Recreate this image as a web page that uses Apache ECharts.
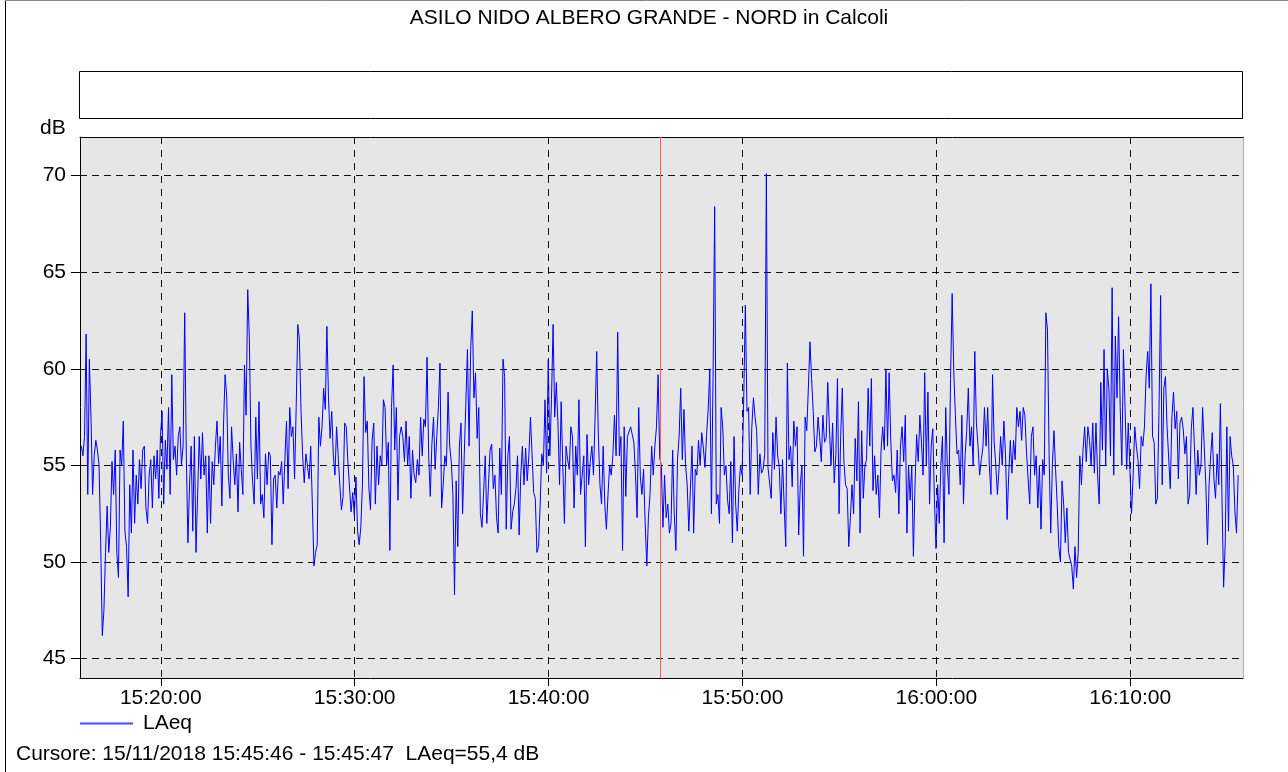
<!DOCTYPE html>
<html><head><meta charset="utf-8">
<script src="https://cdn.jsdelivr.net/npm/echarts@6/dist/echarts.min.js"></script>
<style>html,body{margin:0;padding:0;background:#fff}#c{width:1288px;height:772px}</style>
</head><body><div id="c"></div>
<script>
const titleText = 'ASILO NIDO ALBERO GRANDE - NORD in Calcoli';
const seriesName = 'LAeq';
const yUnit = 'dB';
const cursorText = 'Cursore: 15/11/2018 15:45:46 - 15:45:47  LAeq=55,4 dB';
const startTime = '15:15:54';
const stepSeconds = 5;
const axisStart = '15:15:50';
const axisEnd = '16:15:49';
const cursorTime = '15:45:46';
const yMin = 44, yMax = 72;
const yTicks = [45, 50, 55, 60, 65, 70];
const xTickLabels = ['15:20:00', '15:30:00', '15:40:00', '15:50:00', '16:00:00', '16:10:00'];

const laeq1 = [56,55.5,56.5,61.8,53.5,60.5,57.5,53.5,55.5,56.3,55.8,55.0,51.0,46.2,47.5,50.5,52.9,50.5,51.8,55.2,53.5,55.8,50.5,49.2,55.8,55.0,57.3,51.6,50.8,48.2,54.0,51.5,55.8,52.0,54.5,53.0,55.3,53.8,55.8,56.0,52.8,52.0,54.5,55.3,52.8,55.5,54.3,55.8,53.3,56.5,57.8,53.0,56.3,54.8,58.0,53.5,59.7,55.3,56.0,54.5,56.5,57.0,55.0,56.0,62.9,55.5,51.0,54.0,56.0,51.6,56.5,50.5,53.5,56.5,54.3,56.7,54.5,55.5,51.5,55.5];
const laeq2 = [52.0,55.2,54.0,56.0,57.3,55.1,56.5,52.9,57.0,59.7,58.6,54.5,53.3,57.0,55.3,54.0,55.6,52.6,56.2,54.8,53.5,60.2,57.6,64.1,61.6,56.0,54.2,53.0,57.5,54.3,58.3,53.0,53.5,52.3,55.6,54.0,55.7,55.5,50.9,54.3,54.5,52.8,54.7,54.5,55.2,53.0,55.3,57.3,53.8,58.0,56.5,57.0,54.3,58.0,62.3,61.5,57.8,55.5,54.1,55.6,55.7,54.3,56.0,53.0,49.8,50.5,50.9,57.5,56.0,57.0,59.0,57.9,62.2,58.5,56.4,57.8,55.5,54.5,57.0,55.5];
const laeq3 = [54.0,52.7,53.4,57.2,57.0,55.2,55.2,52.6,53.6,52.4,54.4,51.6,50.9,51.8,54.0,59.6,56.7,57.3,53.8,52.7,56.3,57.2,53.0,56.0,54.0,55.5,55.0,58.4,58.0,55.0,56.2,50.6,58.0,60.2,55.8,58.0,53.2,56.5,57.0,56.5,55.2,57.3,55.0,56.5,53.3,55.8,54.5,54.1,55.3,54.5,57.5,55.5,57.4,57.0,60.6,55.5,53.4,56.1,57.5,54.8,56.5,58.0,60.3,52.8,54.0,55.5,55.0,58.8,56.0,55.2,53.5,48.3,54.2,50.8,56.0,57.2,52.5,55.5,58.2,61.0];
const laeq4 = [56.0,61.0,63.0,58.5,59.8,56.4,58.0,52.5,51.8,53.6,55.5,52.0,54.0,55.8,56.1,53.8,54.5,52.3,51.5,55.9,53.5,60.5,59.6,51.7,55.5,56.5,51.7,52.6,53.0,53.8,55.5,51.4,54.5,56.0,54.0,55.9,54.2,55.5,57.5,57.5,53.6,53.3,50.5,50.8,53.0,55.6,55.0,58.4,54.6,60.5,55.5,58.4,62.3,57.5,59.3,57.2,54.0,58.3,55.0,52.0,56.0,55.3,54.8,57.0,56.5,52.8,56.0,54.5,58.4,53.5,53.5,55.5,50.8,56.6,54.0,55.2,56.0,54.5,57.5,60.9];
const laeq5 = [56.6,54.0,53.0,56.0,53.0,51.7,53.5,55.0,54.5,55.5,57.6,55.5,61.9,55.5,56.5,50.6,57.0,53.4,56.5,56.6,57.0,57.0,56.2,54.5,52.3,58.0,54.4,53.5,54.8,52.0,49.8,52.3,53.5,56.0,54.5,56.0,57.0,59.7,55.4,55.0,51.8,54.5,52.3,53.0,51.5,52.0,55.8,52.5,50.6,55.3,56.5,59.0,55.3,57.9,55.0,54.0,51.6,53.8,56.0,51.5,54.8,54.5,56.3,55.0,56.7,55.9,54.9,56.6,57.9,60.0,52.5,59.5,68.4,53.0,53.5,52.0,58.0,57.0,54.5,55.0];
const laeq6 = [53.2,52.5,55.2,51.0,56.5,53.0,51.6,53.8,55.0,54.5,58.5,63.3,57.8,58.0,53.5,57.0,58.5,57.5,56.8,53.5,55.6,54.6,54.8,55.6,70.1,54.9,54.9,53.3,56.7,54.8,57.5,55.5,54.9,52.5,55.3,53.0,50.8,60.3,55.3,56.0,53.9,57.3,56.0,57.0,51.4,54.0,55.0,50.3,57.5,56.8,59.0,61.4,59.5,57.8,55.7,56.0,57.5,56.5,55.2,57.6,56.2,56.4,59.3,57.0,55.0,57.2,54.1,55.5,59.5,52.5,56.5,59.0,55.2,54.0,53.8,50.8,52.3,54.0,52.5,56.4];
const laeq7 = [54.2,58.3,51.5,56.8,53.3,55.0,55.3,59.0,56.0,59.5,53.7,55.5,53.5,54.5,52.3,55.8,57.0,55.8,60.0,56.0,59.8,56.3,54.2,54.5,53.6,55.8,52.5,56.0,57.0,55.2,57.6,51.5,55.0,53.2,55.0,50.3,54.0,56.6,55.2,57.6,56.2,54.5,59.8,55.0,58.8,53.0,56.0,56.9,53.3,50.7,54.0,52.0,55.0,56.5,51.0,58.0,55.0,53.5,59.5,63.9,59.8,57.6,55.6,55.8,54.0,57.6,53.0,55.5,56.8,59.0,56.0,57.0,55.0,60.9,57.2,56.0,54.5,55.3,55.9,58.0];
const laeq8 = [56.0,58.0,55.0,53.5,59.7,56.2,55.0,53.5,54.8,56.5,55.0,57.3,55.6,52.2,54.5,56.3,54.6,56.3,55.3,58.0,57.0,57.8,56.3,58.0,57.6,55.7,54.3,53.0,56.5,57.0,54.5,55.5,52.8,55.0,51.7,55.3,54.5,62.9,62.0,55.5,51.5,55.0,56.8,54.8,53.0,50.8,50.0,54.2,53.0,51.0,52.8,50.5,50.6,49.8,48.6,50.8,49.2,50.5,55.5,54.0,55.8,57.0,55.2,57.0,56.3,55.0,57.2,54.6,57.2,54.5,53.0,59.3,55.8,61.0,55.0,60.0,59.0,55.5,64.2,54.5];
const laeq9 = [61.7,58.5,62.7,58.0,55.0,61.0,58.0,54.8,57.2,54.8,52.5,54.5,57.0,56.0,55.3,53.8,56.5,56.0,57.0,59.6,60.9,59.0,64.4,56.5,56.2,53.0,53.3,57.8,63.8,54.0,59.0,59.6,57.0,56.9,53.8,57.5,58.8,56.9,57.8,54.3,57.2,57.5,56.9,55.6,56.5,53.0,53.5,56.9,58.0,55.8,53.5,55.8,54.5,55.0,58.0,56.0,54.0,50.9,54.0,55.5,56.7,54.3,53.3,55.6,54.0,58.2,53.3,48.7,51.0,57.0,51.6,56.5,55.5,55.0,52.6,51.5,54.5];

const laeq = [].concat(laeq1, laeq2, laeq3, laeq4, laeq5, laeq6, laeq7, laeq8, laeq9);

const FONT = 'Liberation Sans, Arial, sans-serif';
const FS = 21;
// times are expressed as seconds of the day
const toSec = s => { const p = s.split(':').map(Number); return p[0] * 3600 + p[1] * 60 + p[2]; };
const pad = n => (n < 10 ? '0' : '') + n;
const fmtTime = v => { const s = Math.round(v); return pad(Math.floor(s / 3600)) + ':' + pad(Math.floor(s / 60) % 60) + ':' + pad(s % 60); };
const t0 = toSec(startTime);
const seriesData = laeq.map((v, i) => [t0 + i * stepSeconds, v]);
const tMin = toSec(axisStart);
const tMax = toSec(axisEnd);
const xTickVals = xTickLabels.map(toSec);

const chart = echarts.init(document.getElementById('c'), null, { renderer: 'canvas' });
chart.setOption({
  animation: false,
  backgroundColor: '#ffffff',
  textStyle: { fontFamily: FONT },
  title: {
    text: titleText, left: 644, top: 3, textAlign: 'center', padding: 5,
    textStyle: { fontSize: FS, fontWeight: 'normal', color: '#000', fontFamily: FONT }
  },
  legend: {
    show: true, left: 75, top: 708, icon: 'rect', itemWidth: 53, itemHeight: 2,
    data: [{ name: seriesName, itemStyle: { color: '#4a4aff' } }],
    textStyle: { fontSize: FS, color: '#000', fontFamily: FONT, padding: [0, 0, 0, 5] }
  },
  grid: {
    left: 80, top: 137, width: 1163, height: 541,
    show: true, backgroundColor: '#e6e6e6', borderWidth: 0
  },
  xAxis: [{
    type: 'value', min: tMin, max: tMax,
    axisLine: { show: true, onZero: false, lineStyle: { color: '#000', width: 1 } },
    axisTick: { show: true, length: 8, customValues: xTickVals, lineStyle: { color: '#000' } },
    axisLabel: { customValues: xTickVals, formatter: fmtTime, fontSize: FS, color: '#000', fontFamily: FONT, margin: 10, hideOverlap: false },
    splitLine: { show: true, lineStyle: { color: '#111', width: 1, type: [7, 6] } },
    minorTick: { show: false }, minorSplitLine: { show: false }
  }, {
    type: 'value', min: tMin, max: tMax, position: 'top',
    axisLine: { show: true, onZero: false, lineStyle: { color: '#000', width: 1 } },
    axisTick: { show: false }, axisLabel: { show: false }, splitLine: { show: false }
  }],
  yAxis: [{
    type: 'value', min: yMin, max: yMax, position: 'left',
    axisLine: { show: true, onZero: false, lineStyle: { color: '#000', width: 1 } },
    axisTick: { show: true, length: 9, customValues: yTicks, lineStyle: { color: '#000' } },
    axisLabel: { customValues: yTicks, fontSize: FS, color: '#000', fontFamily: FONT, margin: 14 },
    splitLine: { show: true, lineStyle: { color: '#111', width: 1, type: [7, 5] } }
  }, {
    type: 'value', min: yMin, max: yMax, position: 'right',
    axisLine: { show: true, onZero: false, lineStyle: { color: '#b0b0b0', width: 1 } },
    axisTick: { show: false }, axisLabel: { show: false }, splitLine: { show: false }
  }],
  series: [{
    type: 'line', name: seriesName, data: seriesData, xAxisIndex: 0, yAxisIndex: 0,
    showSymbol: false, symbol: 'none',
    lineStyle: { color: '#0000ff', width: 1 }, itemStyle: { color: '#0000ff' },
    emphasis: { disabled: true },
    markLine: {
      silent: true, symbol: ['none', 'none'], label: { show: false }, animation: false,
      lineStyle: { color: '#ff5a5a', width: 1, type: 'solid' },
      data: [{ xAxis: toSec(cursorTime) + 0.5 }]
    }
  }],
  graphic: [
    { type: 'line', shape: { x1: 5.5, y1: 0, x2: 5.5, y2: 772 }, style: { stroke: '#000', lineWidth: 1 } },
    { type: 'line', shape: { x1: 5, y1: 0.5, x2: 1288, y2: 0.5 }, style: { stroke: '#888', lineWidth: 1 } },
    { type: 'rect', shape: { x: 79.5, y: 71.5, width: 1163, height: 47 }, style: { fill: '#fff', stroke: '#000', lineWidth: 1 } },
    { type: 'text', x: 40, y: 128, style: { text: yUnit, font: FS + 'px ' + FONT, fill: '#000', verticalAlign: 'middle' } },
    { type: 'text', x: 16, y: 754, style: { text: cursorText, font: FS + 'px ' + FONT, fill: '#000', verticalAlign: 'middle' } }
  ]
});
</script>
</body></html>
